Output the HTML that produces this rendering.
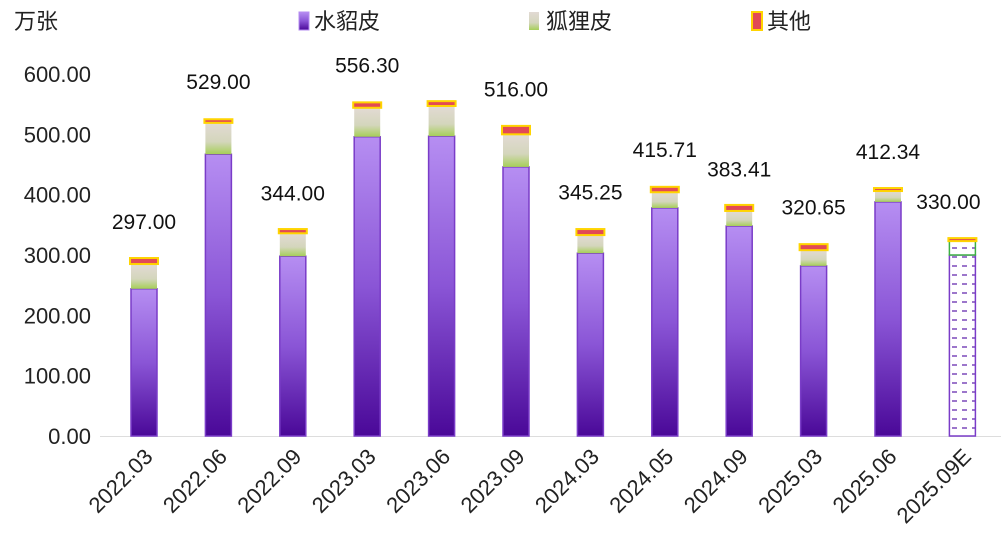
<!DOCTYPE html>
<html><head><meta charset="utf-8"><style>
body{margin:0;background:#fff;width:1001px;height:555px;overflow:hidden}
svg{font-family:"Liberation Sans","Noto Sans CJK SC",sans-serif}
</style></head><body>
<svg id="chart" width="1001" height="555" viewBox="0 0 1001 555" xmlns="http://www.w3.org/2000/svg">
<defs>
<linearGradient id="gMink" x1="0" y1="0" x2="0" y2="1"><stop offset="0" stop-color="#b68ef2"/><stop offset="0.5" stop-color="#8a55d6"/><stop offset="1" stop-color="#4a0898"/></linearGradient>
<linearGradient id="gFox" x1="0" y1="0" x2="0" y2="1"><stop offset="0" stop-color="#e2dad4"/><stop offset="0.6" stop-color="#d4d6bc"/><stop offset="1" stop-color="#a6cf58"/></linearGradient>
<pattern id="hatch" width="10" height="9" patternUnits="userSpaceOnUse"><rect width="10" height="9" fill="#fff"/><line x1="2" y1="5" x2="7" y2="5" stroke="#5a1aa8" stroke-width="1.2"/></pattern>
</defs>
<text x="14" y="29" font-size="22" fill="#222">万张</text>
<g>
<rect x="299" y="12" width="10" height="18" fill="url(#gMink)" stroke="#b58cf0"/>
<text x="314" y="29" font-size="22" fill="#222">水貂皮</text>
<rect x="529" y="12" width="10" height="18" fill="url(#gFox)"/>
<text x="546" y="29" font-size="22" fill="#222">狐狸皮</text>
<rect x="752" y="12" width="10" height="18" fill="#e24a55" stroke="#ffd400" stroke-width="2"/>
<text x="767" y="29" font-size="22" fill="#222">其他</text>
</g>
<g id="axes"></g>
<g id="bars"></g>
<g id="labels"></g>
</svg>
<script>
const categories=["2022.03","2022.06","2022.09","2023.03","2023.06","2023.09","2024.03","2024.05","2024.09","2025.03","2025.06","2025.09E"];
const mink=[244,467,298,496,497,446,303,378,348,282,388,300];
const fox=[41,52,38,48,50,54,30,26,25,26,18,23];
const other=[10,6,7,9,8,14,10,9,10,10,5,5];
const totalLabels=["297.00","529.00","344.00","556.30","","516.00","345.25","415.71","383.41","320.65","412.34","330.00"];
const yTicks=[0,100,200,300,400,500,600];
const NS="http://www.w3.org/2000/svg";
const y0=436,pxPer=(436-74)/600;
function y(v){return y0-v*pxPer;}
function x(i){return 144+i*74.4;}
const bw=26;
function mk(tag,attrs,parent){const e=document.createElementNS(NS,tag);for(const k in attrs)e.setAttribute(k,attrs[k]);parent.appendChild(e);return e;}
const axes=document.getElementById('axes'),bars=document.getElementById('bars'),labels=document.getElementById('labels');
yTicks.forEach(t=>{const e=mk('text',{x:91,y:y(t)+8,'font-size':22,'text-anchor':'end',fill:'#222'},axes);e.textContent=t.toFixed(2);

});
const base=mk('line',{x1:100,x2:1001,y1:y0+0.5,y2:y0+0.5,stroke:'#ddd','stroke-width':1},axes);


categories.forEach((c,i)=>{
const cx=x(i),l=cx-bw/2;
const m=mk('rect',{x:l,y:y(mink[i]),width:bw,height:y0-y(mink[i]),fill:i==11?'url(#hatch)':'url(#gMink)',stroke:'#7a3cc8','stroke-width':1.5},bars);


const f=mk('rect',{x:l,y:y(mink[i]+fox[i]),width:bw,height:y(mink[i])-y(mink[i]+fox[i]),fill:i==11?'url(#hatch)':'url(#gFox)',stroke:i==11?'#3cb043':'none','stroke-width':1.5},bars);


const tTop=mink[i]+fox[i]+other[i];
const o=mk('rect',{x:l-1,y:y(tTop),width:bw+2,height:Math.max(3,y(mink[i]+fox[i])-y(tTop)),fill:'#e24a55',stroke:'#ffd400','stroke-width':2},bars);


if(totalLabels[i]){const t=mk('text',{x:cx-(i==11?14:0),y:y(parseFloat(totalLabels[i]))-28,'font-size':21,'text-anchor':'middle',fill:'#111'},labels);t.textContent=totalLabels[i];

}
const ax=cx+10,ay=458;
const xl=mk('text',{x:ax,y:ay,'font-size':22,'text-anchor':'end',fill:'#222',transform:`rotate(-45 ${ax} ${ay})`},labels);
xl.textContent=c;


});
</script>
</body></html>
